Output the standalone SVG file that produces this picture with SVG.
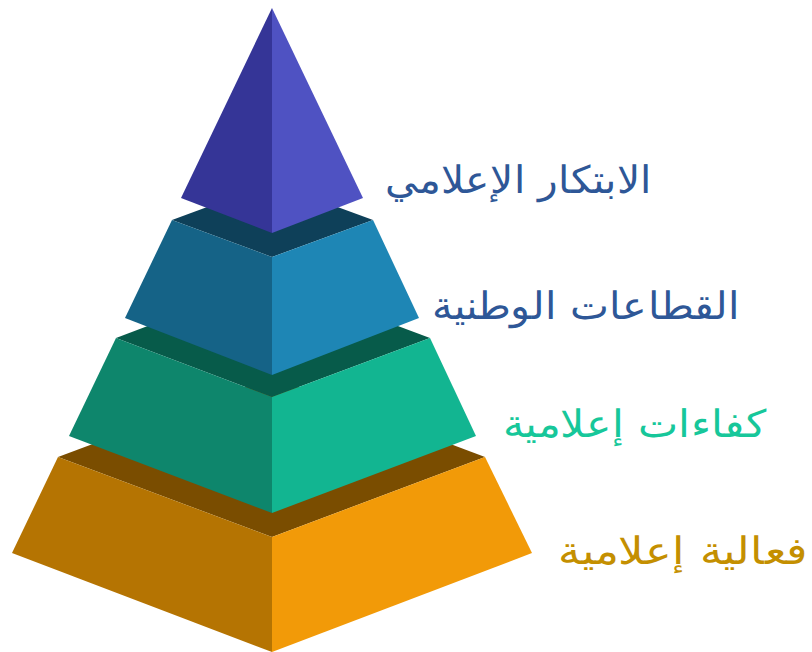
<svg xmlns="http://www.w3.org/2000/svg" width="812" height="652" viewBox="0 0 812 652">
<style>
.lbl{font-family:"DejaVu Sans","Noto Sans",sans-serif;font-size:38px;font-weight:300}
</style>
<rect width="812" height="652" fill="#ffffff"/>
<g id="layer4">
<polygon points="58,457 272,377 485,457 272,537" fill="#7a4d00"/>
<polygon points="58,457 272,537 272,652 12,553" fill="#b57402"/>
<polygon points="485,457 272,537 272,652 532,553" fill="#f29a08"/>
</g>
<g id="layer3">
<polygon points="116,338 272,279 430,338 272,397" fill="#075b4a"/>
<polygon points="116,338 272,397 272,513 69,436" fill="#0e866c"/>
<polygon points="430,338 272,397 272,513 476,436" fill="#12b591"/>
</g>
<g id="layer2">
<polygon points="172,220 272,183 373,220 272,257" fill="#0e4059"/>
<polygon points="172,220 272,257 272,375 125,318" fill="#156387"/>
<polygon points="373,220 272,257 272,375 419,318" fill="#1e86b5"/>
</g>
<g id="layer1">
<polygon points="272,8 181,198 272,233" fill="#353597"/>
<polygon points="272,8 363,198 272,233" fill="#4f52c2"/>
</g>
<g id="labels">
<text class="lbl" x="652" y="193" text-anchor="end" fill="#2e5797" textLength="267" lengthAdjust="spacingAndGlyphs">الابتكار الإعلامي</text>
<text class="lbl" x="740" y="319" text-anchor="end" fill="#2e5797" textLength="308" lengthAdjust="spacingAndGlyphs">القطاعات الوطنية</text>
<text class="lbl" x="766" y="437" text-anchor="end" fill="#17c79a" textLength="263" lengthAdjust="spacingAndGlyphs">كفاءات إعلامية</text>
<text class="lbl" x="807" y="564" text-anchor="end" fill="#c48f00" textLength="249" lengthAdjust="spacingAndGlyphs">فعالية إعلامية</text>
</g>
</svg>
